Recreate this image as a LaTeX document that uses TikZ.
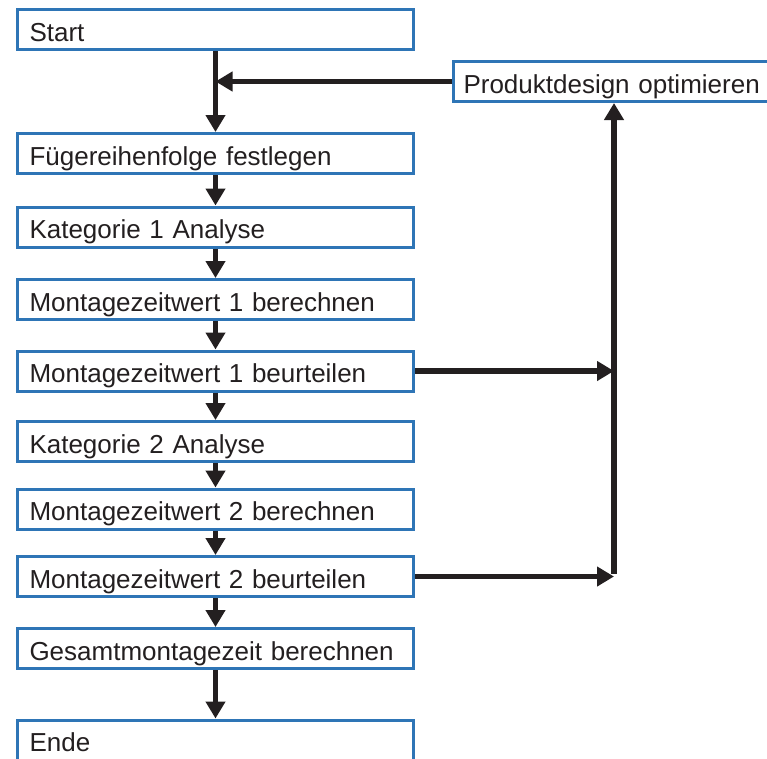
\documentclass[tikz,border=0pt]{standalone}
\usepackage{fontspec}
\setmainfont{Liberation Sans}
\usetikzlibrary{arrows.meta}
\definecolor{boxblue}{HTML}{2E75B6}
\definecolor{ink}{HTML}{231F20}
\begin{document}
\begin{tikzpicture}[x=1pt,y=-1pt,
  stepbox/.style={draw=boxblue, line width=3pt, fill=white, anchor=west,
    minimum height=40pt, text width=372pt, inner xsep=12pt, inner ysep=0pt,
    text height=25pt, text depth=2pt,
    align=left, text=ink, font=\fontsize{26}{30}\selectfont},
  flow/.style={draw=ink, line width=5.5pt, -{Triangle[length=17pt,width=19pt]}},
  rail/.style={draw=ink, line width=5.5pt}]
\useasboundingbox (0,0) rectangle (767,758);

% main sequence of steps
\node[stepbox] (start) at (16,29.5)  {Start};
\node[stepbox] (fuege) at (16,153.5) {Fügereihenfolge festlegen};
\node[stepbox] (kat1)  at (16,227)   {Kategorie 1 Analyse};
\node[stepbox] (m1c)   at (16,299.5) {Montagezeitwert 1 berechnen};
\node[stepbox] (m1b)   at (16,371)   {Montagezeitwert 1 beurteilen};
\node[stepbox] (kat2)  at (16,441.5) {Kategorie 2 Analyse};
\node[stepbox] (m2c)   at (16,509)   {Montagezeitwert 2 berechnen};
\node[stepbox] (m2b)   at (16,576.5) {Montagezeitwert 2 beurteilen};
\node[stepbox] (total) at (16,648.5) {Gesamtmontagezeit berechnen};
\node[stepbox] (ende)  at (16,740)   {Ende};

% redesign step on the right, running past the right edge
\node[stepbox, text width=320pt, inner xsep=10pt] (prod) at (452,81.5) {Produktdesign optimieren};

% return rail
\coordinate (rail) at (614,0);

% downward flow
\draw[flow] (start.south) -- (fuege.north);
\draw[flow] (fuege.south) -- (kat1.north);
\draw[flow] (kat1.south)  -- (m1c.north);
\draw[flow] (m1c.south)   -- (m1b.north);
\draw[flow] (m1b.south)   -- (kat2.north);
\draw[flow] (kat2.south)  -- (m2c.north);
\draw[flow] (m2c.south)   -- (m2b.north);
\draw[flow] (m2b.south)   -- (total.north);
\draw[flow] (total.south) -- (ende.north);

% feedback loop
\draw[flow] (m1b.east) -- (m1b.east -| rail);
\draw[flow] (m2b.east) -- (m2b.east -| rail);
\draw[rail] ([yshift=2.75pt]m2b.east -| rail) -- ([yshift=-20pt]prod.south -| rail);
\draw[flow] ([yshift=-20pt]prod.south -| rail) -- (prod.south -| rail);
\draw[flow] (prod.west) -- (prod.west -| start.south);
\end{tikzpicture}
\end{document}
